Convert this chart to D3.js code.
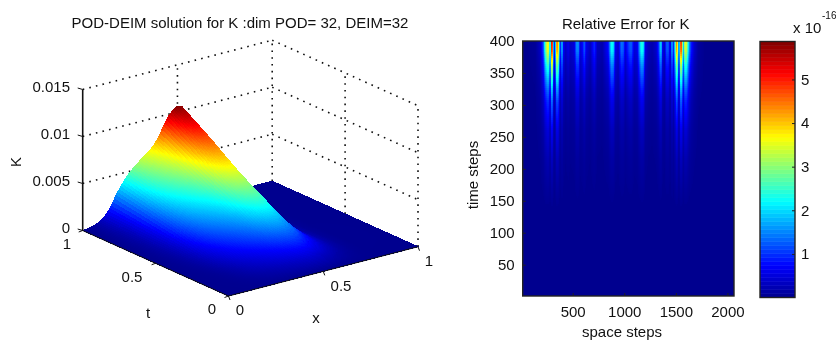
<!DOCTYPE html>
<html>
<head>
<meta charset="utf-8">
<script src="https://cdn.jsdelivr.net/npm/d3@7"></script>
<style>
html,body{margin:0;padding:0;background:#fff;}
svg{display:block;filter:blur(0.35px);}
text{font-family:"Liberation Sans",Arial,sans-serif;fill:#111;font-size:15px;}
</style>
</head>
<body>
<svg id="c" width="836" height="342"></svg>
<script>
// ---------- data: left panel ----------
const surfaceTitle = "POD-DEIM solution for K :dim POD= 32, DEIM=32";
const spaceSamples = [0,.025,.05,.075,.1,.125,.15,.175,.2,.225,.25,.275,.3,.325,.35,.375,.4,.425,.45,.475,.5,.525,.55,.6,.65,.7,.75,.8,1];
const kAtFinalTime = [0,.00004,.00015,.00032,.0006,.0011,.0018,.0028,.0036,.0043,.0049,.0054,.0058,.0062,.0066,.0071,.0078,.0088,.0097,.0103,.0106,.0104,.0093,.005,.0018,.0005,.0001,0,0];
const kEarlyShape = [0,.00002,.00005,.0001,.0002,.0004,.0007,.0012,.0018,.0026,.0034,.0041,.0048,.0056,.0064,.0071,.0079,.0087,.0095,.0102,.0106,.0102,.0093,.0066,.0039,.0018,.0006,.0001,0];
const timeSamples = [0,.1,.2,.3,.4,.5,.6,.7,.8,.9,1];
const growthInTime = [0,.07,.17,.28,.38,.48,.58,.69,.8,.9,1];
const finalShapeShare = [0,0,.1,.4,.7,.9,1,1,1,1,1];
const zTicks = [0,.005,.01,.015];
const zTickLabels = ["0","0.005","0.01","0.015"];
const xyTicks = [0,.5,1];
const xyTickLabels = ["0","0.5","1"];
// ---------- data: right panel ----------
const errorTitle = "Relative Error for K";
const errorSteps = [1,120,168,198,217,236,246,256,265,275,285,295,304,314,324,333,343,353,362,372,382,391,411,440,459,498,517,537,556,575,595,614,653,692,721,769,827,856,876,895,924,953,973,992,1031,1050,1079,1108,1137,1147,1166,1186,1215,1253,1292,1312,1331,1341,1350,1370,1389,1408,1428,1437,1447,1457,1466,1476,1486,1495,1505,1515,1524,1534,1544,1553,1563,1573,1582,1592,1611,1631,1660,1699,1757,2049];
const errorAtLastTime = [0,.05,.35,1.2,2.8,3.7,3.9,2.6,1.5,5.0,5.4,2,.8,1.5,4.2,4.5,4.0,2,.8,1.6,1.8,.8,.35,.6,.35,.5,1.5,1.6,.5,.7,1.3,.6,.3,1.0,.3,.2,.8,2.3,2.2,.7,.4,1.4,1.3,.5,1.2,1.3,.5,.6,2.0,2.4,2.3,.6,.3,.2,.4,.9,1.9,2.0,.8,.3,1.2,1.3,.4,1.4,1.8,.8,1.6,2.4,4.3,4.6,2.0,1.0,4.4,5.2,3.8,1.5,3.0,3.5,3.6,3.0,1.6,.9,.4,.1,.02,0];
const decaySteps = [136,167,214,261,305,323,342,362,386,400];
const decayFactor = [0,.02,.06,.13,.26,.36,.5,.66,.95,1];
const spaceTicks = [500,1000,1500,2000];
const timeTicks = [50,100,150,200,250,300,350,400];
const colorbarTicks = [1,2,3,4,5];
const jetStops = [0,.125,.375,.625,.875,1];
const jetColors = ["#00008f","#0000ff","#00ffff","#ffff00","#ff0000","#800000"];

const svg = d3.select("#c");
const jetUnit = d3.scaleLinear().domain(jetStops).range(jetColors).interpolate(d3.interpolateRgb).clamp(true);

// ---------- left panel: linear 3D projection built from scales ----------
const xScreenX = d3.scaleLinear().domain([0,1]).range([0,189.5]);
const xScreenY = d3.scaleLinear().domain([0,1]).range([0,-49.3]);
const tScreenX = d3.scaleLinear().domain([0,1]).range([0,-145.8]);
const tScreenY = d3.scaleLinear().domain([0,1]).range([0,-65.5]);
const zScreenY = d3.scaleLinear().domain([0,.015]).range([0,-141]);
const ORIGIN = [228.5,296];
const proj = (x,t,z)=>[ORIGIN[0]+xScreenX(x)+tScreenX(t), ORIGIN[1]+xScreenY(x)+tScreenY(t)+zScreenY(z)];
const kFinal = d3.scaleLinear().domain(spaceSamples).range(kAtFinalTime);
const kEarly = d3.scaleLinear().domain(spaceSamples).range(kEarlyShape);
const growth = d3.scaleLinear().domain(timeSamples).range(growthInTime);
const share = d3.scaleLinear().domain(timeSamples).range(finalShapeShare);
const K = (x,t)=>(kFinal(x)*share(t)+kEarly(x)*(1-share(t)))*growth(t);
const kColor = d3.scaleLinear().domain([0,.0106]).range([0,1]);

const left = svg.append("g");
const dotted = (a,b)=>left.append("line").attr("x1",a[0]).attr("y1",a[1]).attr("x2",b[0]).attr("y2",b[1])
  .attr("stroke","#111").attr("stroke-width",1.6).attr("stroke-dasharray","1.6 5.2");
zTicks.slice(1).forEach(z=>{
  dotted(proj(0,1,z),proj(1,1,z));
  dotted(proj(1,1,z),proj(1,0,z));
});
[.5,1].forEach(x=>dotted(proj(x,1,0),proj(x,1,.015)));
[.5,0].forEach(t=>dotted(proj(1,t,0),proj(1,t,.015)));

// surface, back to front
const nx=120, nt=120, quads=[];
for(let j=nt-1;j>=0;j--){
  for(let i=nx-1;i>=0;i--){
    const x0=i/nx,x1=(i+1)/nx,t0=j/nt,t1=(j+1)/nt;
    quads.push({pts:[[x0,t0],[x1,t0],[x1,t1],[x0,t1]].map(p=>proj(p[0],p[1],K(p[0],p[1]))),
      v:(K(x0,t0)+K(x1,t0)+K(x1,t1)+K(x0,t1))/4});
  }
}
const quadLine=d3.line();
left.append("g").attr("shape-rendering","crispEdges").selectAll("path").data(quads).join("path")
  .attr("d",d=>quadLine(d.pts)+"Z")
  .attr("fill",d=>jetUnit(kColor(d.v))).attr("stroke",d=>jetUnit(kColor(d.v))).attr("stroke-width",1);

// axis lines and ticks
const solid=(a,b,w)=>left.append("line").attr("x1",a[0]).attr("y1",a[1]).attr("x2",b[0]).attr("y2",b[1]).attr("stroke","#111").attr("stroke-width",w);
solid(proj(0,1,0),proj(0,1,.015),1.6);
solid(proj(0,1,0),proj(0,0,0),1);
solid(proj(0,0,0),proj(1,0,0),1);
zTicks.forEach(z=>{const p=proj(0,1,z);solid(p,[p[0]-5,p[1]-1.5],1);});
xyTicks.forEach(v=>{
  const p=proj(v,0,0);solid(p,[p[0]+1.5,p[1]+4],1);
  const q=proj(0,v,0);solid(q,[q[0]-4,q[1]+1.5],1);
});
const label=(s,x,y,anchor,rot)=>{
  const t=left.append("text").text(s).attr("text-anchor",anchor||"middle").attr("dominant-baseline","central");
  if(rot) t.attr("transform",`translate(${x},${y}) rotate(${rot})`); else t.attr("x",x).attr("y",y);
  return t;
};
label(surfaceTitle,240,22);
const zLabelY=[227.5,180.5,133.5,86.5];
zTicks.forEach((z,i)=>label(zTickLabels[i],70,zLabelY[i],"end"));
const tLabelPos=[[67,243],[132,276],[212,308]];
const xLabelPos=[[240,309],[341,285],[429,260]];
xyTicks.forEach((v,i)=>{
  const tp=tLabelPos[2-i];
  label(xyTickLabels[i],tp[0],tp[1]);
  label(xyTickLabels[i],xLabelPos[i][0],xLabelPos[i][1]);
});
label("K",15,162,"middle",-90);
label("t",148,312);
label("x",316,317);

// ---------- right panel: heat map ----------
const right = svg.append("g");
const sx = d3.scaleLinear().domain([1,2049]).range([522.7,734]);
const sy = d3.scaleLinear().domain([1,400]).range([296,41]);
const errValue = d3.scaleLinear().domain([0,5.87]).range([0,1]);
const errProfile = d3.scaleLinear().domain(errorSteps).range(errorAtLastTime);
const decay = d3.scaleLinear().domain(decaySteps).range(decayFactor).clamp(true);
svg.append("clipPath").attr("id","hm").append("rect").attr("x",sx(1)).attr("y",sy(400)).attr("width",sx(2049)-sx(1)).attr("height",sy(1)-sy(400));
right.append("rect").attr("x",sx(1)).attr("y",sy(400)).attr("width",sx(2049)-sx(1)).attr("height",sy(1)-sy(400)).attr("fill",jetColors[0]);
const colSteps=d3.range(1,2049,9.69), rowSteps=d3.range(136,400,3.13);
const cells=[];
rowSteps.forEach(t=>colSteps.forEach(s=>{
  const v=errProfile(s+4.8)*decay(t+1.5);
  if(v>.02) cells.push({s,t,v});
}));
right.append("g").attr("clip-path","url(#hm)").attr("shape-rendering","crispEdges").selectAll("rect").data(cells).join("rect")
  .attr("x",d=>sx(d.s)).attr("y",d=>sy(d.t+3.13))
  .attr("width",sx(9.69)-sx(0)+.5).attr("height",sy(0)-sy(3.13)+.5)
  .attr("fill",d=>jetUnit(errValue(d.v)));
right.append("rect").attr("x",sx(1)).attr("y",sy(400)).attr("width",sx(2049)-sx(1)).attr("height",sy(1)-sy(400))
  .attr("fill","none").attr("stroke","#222").attr("stroke-width",1.4);

const xAxis=d3.axisBottom(sx).tickValues(spaceTicks).tickFormat(d3.format("d")).tickSizeInner(-3).tickSizeOuter(0).tickPadding(10);
const gx=right.append("g").attr("transform",`translate(-1.5,${sy(1)})`).call(xAxis);
const yAxis=d3.axisLeft(sy).tickValues(timeTicks).tickFormat(d3.format("d")).tickSizeInner(-3).tickSizeOuter(0).tickPadding(8);
const gy=right.append("g").attr("transform",`translate(${sx(1)},0)`).call(yAxis);
[gx,gy].forEach(g=>{g.select(".domain").remove();g.selectAll("line").attr("stroke","#222");
  g.selectAll("text").style("font-family",'"Liberation Sans",Arial,sans-serif').style("font-size","15px").attr("fill","#111");});
const rlabel=(s,x,y,rot)=>{
  const t=right.append("text").text(s).attr("text-anchor","middle").attr("dominant-baseline","central");
  if(rot) t.attr("transform",`translate(${x},${y}) rotate(${rot})`); else t.attr("x",x).attr("y",y);
  return t;
};
rlabel(errorTitle,625.7,23);
rlabel("time steps",472,175,-90);
rlabel("space steps",622,331.5);

// ---------- colour bar ----------
const cbY=d3.scaleLinear().domain([0,5.87]).range([297.5,41.5]);
const levels=d3.range(64);
const levelScale=d3.scaleLinear().domain([0,64]).range([0,5.87]);
right.append("g").selectAll("rect").data(levels).join("rect")
  .attr("x",760).attr("width",35)
  .attr("y",d=>cbY(levelScale(d+1))).attr("height",d=>cbY(levelScale(d))-cbY(levelScale(d+1))+.4)
  .attr("fill",d=>jetUnit((d+.5)/64));
right.append("rect").attr("x",760).attr("y",41.5).attr("width",35).attr("height",256)
  .attr("fill","none").attr("stroke","#222").attr("stroke-width",1.4);
const cAxis=d3.axisRight(cbY).tickValues(colorbarTicks).tickFormat(d3.format("d")).tickSizeInner(-3).tickSizeOuter(0).tickPadding(6);
const gc=right.append("g").attr("transform","translate(795,0)").call(cAxis);
gc.select(".domain").remove();gc.selectAll("line").attr("stroke","#222");
gc.selectAll("text").style("font-family",'"Liberation Sans",Arial,sans-serif').style("font-size","15px").attr("fill","#111");
right.append("text").text("x 10").attr("x",793).attr("y",33);
right.append("text").text("-16").attr("x",822).attr("y",19).style("font-size","10px");
</script>
</body>
</html>
